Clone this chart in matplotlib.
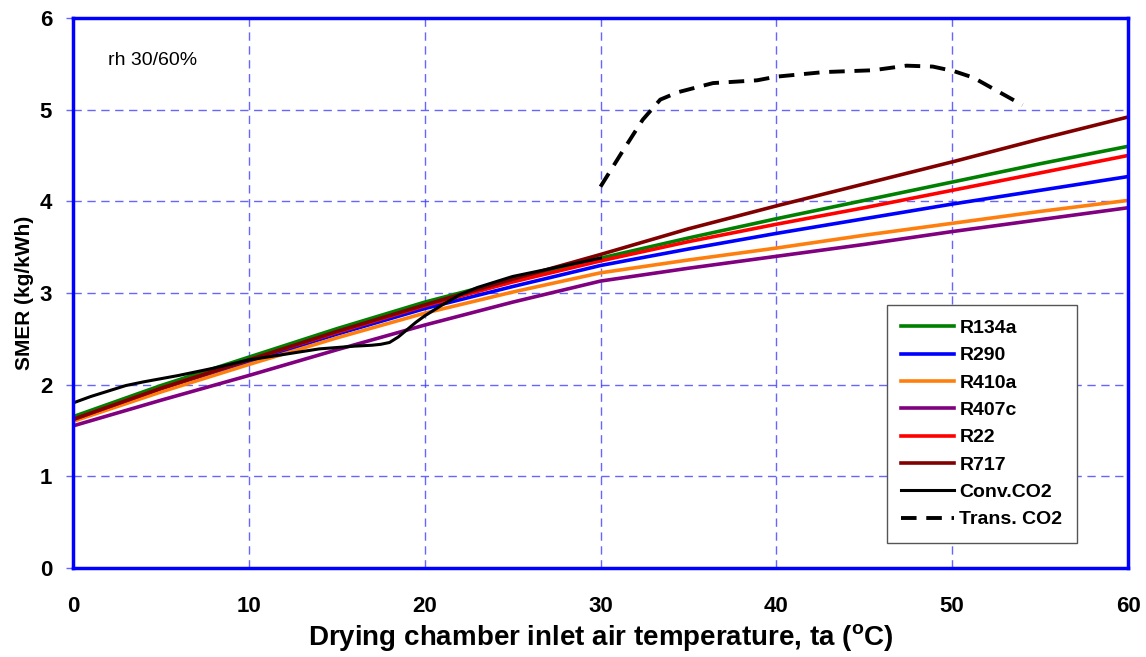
import numpy as np
import matplotlib
matplotlib.use("Agg")
import matplotlib.pyplot as plt

plt.rcParams['font.family'] = ['Liberation Sans', 'DejaVu Sans']

# temperature grid for the refrigerant curves
t = [0, 5, 10, 15, 20, 25, 30, 35, 40, 45, 50, 55, 60]
r134a = [1.65, 1.99, 2.30, 2.61, 2.90, 3.15, 3.38, 3.60, 3.81, 4.01, 4.21, 4.41, 4.60]
r290 = [1.62, 1.95, 2.25, 2.55, 2.83, 3.07, 3.30, 3.48, 3.65, 3.81, 3.97, 4.12, 4.27]
r410a = [1.60, 1.92, 2.22, 2.51, 2.78, 3.01, 3.22, 3.36, 3.49, 3.63, 3.76, 3.89, 4.01]
r407c = [1.55, 1.83, 2.10, 2.38, 2.65, 2.90, 3.13, 3.27, 3.40, 3.53, 3.67, 3.80, 3.93]
r22 = [1.62, 1.96, 2.27, 2.57, 2.86, 3.12, 3.35, 3.56, 3.75, 3.93, 4.12, 4.31, 4.50]
r717 = [1.62, 1.96, 2.27, 2.58, 2.87, 3.15, 3.42, 3.70, 3.95, 4.19, 4.43, 4.68, 4.92]

# conventional CO2
t_conv = [0, 1, 2, 3, 4, 6, 8, 10, 12, 14, 16, 17, 17.5, 18, 18.5, 19, 19.5,
          20, 21, 22, 23, 24, 25, 26, 27, 28, 30]
conv_co2 = [1.80, 1.87, 1.93, 1.99, 2.03, 2.10, 2.18, 2.27, 2.33, 2.39, 2.42,
            2.43, 2.44, 2.46, 2.52, 2.60, 2.68, 2.75, 2.87, 2.98, 3.06, 3.12,
            3.18, 3.22, 3.26, 3.30, 3.38]

# transcritical CO2
t_trans = [30.0, 31.3, 32.4, 33.4, 34.4, 36.4, 38.9, 40.0, 42.7, 45.5, 47.4,
           48.9, 50.1, 51.2, 52.6, 54.0]
trans_co2 = [4.16, 4.56, 4.89, 5.11, 5.19, 5.29, 5.32, 5.36, 5.41, 5.43, 5.48,
             5.47, 5.42, 5.35, 5.20, 5.05]

fig = plt.figure(figsize=(11.46, 6.57), dpi=100)
ax = fig.add_axes([0.0637, 0.1355, 0.9206, 0.8371])

ax.plot(t, r134a, color='#008000', lw=2.6, label='R134a')
ax.plot(t, r290, color='#0000ff', lw=2.6, label='R290')
ax.plot(t, r410a, color='#ff7f0e', lw=2.6, label='R410a')
ax.plot(t, r407c, color='#800080', lw=2.6, label='R407c')
ax.plot(t, r22, color='#ff0000', lw=2.6, label='R22')
ax.plot(t, r717, color='#800000', lw=2.6, label='R717')
ax.plot(t_conv, conv_co2, color='black', lw=2.2, label='Conv.CO2')
ax.plot(t_trans, trans_co2, color='black', lw=2.8, dashes=(4, 2.5),
        label='Trans. CO2')

ax.set_xlim(0, 60)
ax.set_ylim(0, 6)
ax.set_xticks(range(0, 61, 10))
ax.set_yticks(range(0, 7))
ax.grid(True, color='#3333ff', alpha=0.75, lw=1.0, linestyle=(0, (6, 4)))

for s in ax.spines.values():
    s.set_color('#0000ff')
    s.set_linewidth(2.5)

ax.tick_params(axis='y', direction='out', length=5, width=1, color='#6666ff',
               pad=10, labelsize=16)
ax.tick_params(axis='x', direction='in', length=0, pad=20, labelsize=16)
for lab in ax.get_xticklabels() + ax.get_yticklabels():
    lab.set_fontweight('bold')

ax.set_xlabel('Drying chamber inlet air temperature, ta ($\\mathregular{^{o}}$C)',
              fontsize=20, fontweight='bold', labelpad=4)
ax.set_ylabel('SMER (kg/kWh)', fontsize=15, fontweight='bold', labelpad=4)

ax.text(2.0, 5.54, 'rh 30/60%', fontsize=14, va='center', ha='left')

leg = ax.legend(loc='lower right', bbox_to_anchor=(0.9517, 0.0455),
                prop={'weight': 'bold', 'size': 14}, fancybox=False,
                edgecolor='#555555', framealpha=1, handlelength=2.7,
                labelspacing=0.5, borderpad=0.75, handletextpad=0.3,
                borderaxespad=0.0)
leg.get_frame().set_linewidth(1.0)

fig.savefig('out.png', dpi=100)
